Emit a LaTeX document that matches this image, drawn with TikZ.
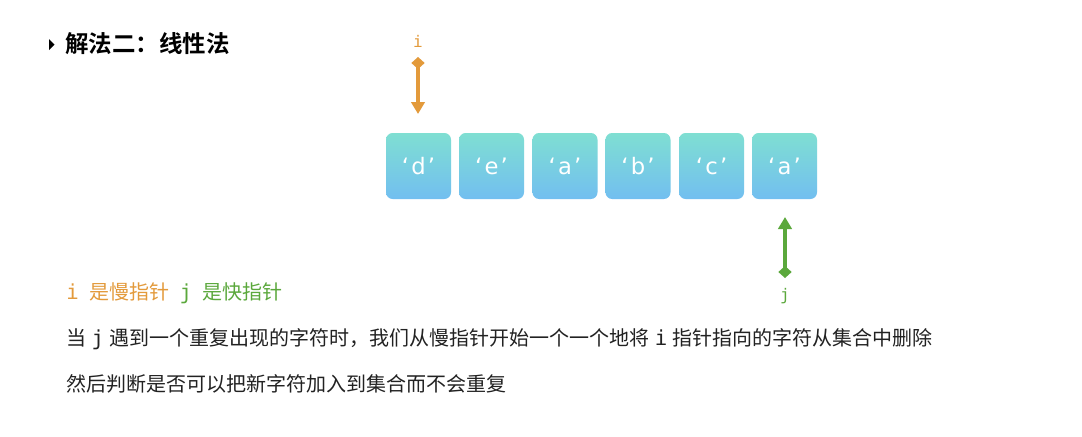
\documentclass[tikz,border=0pt]{standalone}
\usepackage{fontspec}
\usetikzlibrary{arrows.meta}
\newfontfamily\cjk{Noto Sans CJK SC}
\newfontfamily\cjkbold{Noto Sans CJK SC Bold}
\newfontfamily\monof{DejaVu Sans Mono}
\newfontfamily\boxfont{DejaVu Sans}
\definecolor{ptrorange}{HTML}{E39A3B}
\definecolor{ptrgreen}{HTML}{5BA83C}
\definecolor{boxtop}{HTML}{7FDFD2}
\definecolor{boxbot}{HTML}{72BEF0}
\definecolor{txt}{HTML}{222222}
\newcommand{\mletter}[2]{\hspace{#1}{\monof\fontsize{15.5}{17}\selectfont #2}\hspace{#1}}
\newcommand{\qch}[1]{‘\hspace{0.1em}#1\hspace{0.1em}’}
\tikzset{
  cell/.style={minimum width=65*0.75pt, minimum height=66*0.75pt, rounded corners=5pt,
    top color=boxtop, bottom color=boxbot, text=white, font=\boxfont\fontsize{17}{19}\selectfont, inner sep=0pt},
  ptr/.style={line width=2.3pt, {Diamond[length=9pt,width=10pt]}-{Triangle[length=9pt,width=10pt]}},
  body/.style={anchor=west, inner sep=0pt, text=txt, font=\cjk\fontsize{15}{17}\selectfont}
}
\begin{document}
\begin{tikzpicture}[x=0.75pt,y=-0.75pt]
\useasboundingbox[fill=white] (0,0) rectangle (1082,436);
% title
\fill[black] (49,39) -- (54.5,44.5) -- (49,50) -- cycle;
\node[anchor=west, inner sep=0pt, font=\cjkbold\fontsize{17.6}{20}\selectfont] (title) at (65,44) {解法二：线性法};
% cells
\node[cell] (c1) at (418.5,166) {\qch{d}};
\node[cell] (c2) at (491.5,166) {\qch{e}};
\node[cell] (c3) at (565,166) {\qch{a}};
\node[cell] (c4) at (638,166) {\qch{b}};
\node[cell] (c5) at (711.5,166) {\qch{c}};
\node[cell] (c6) at (784.5,166) {\qch{a}};
% pointer i
\node[text=ptrorange, font=\monof\fontsize{12}{14}\selectfont, inner sep=1pt] (ilab) at (418,41) {i};
\coordinate (itop) at (418,57);
\coordinate (ibot) at (418,114);
\draw[ptr, ptrorange] (itop) -- (ibot);
% pointer j
\coordinate (jbot) at (785,278);
\coordinate (jtop) at (785,217);
\draw[ptr, ptrgreen] (jbot) -- (jtop);
\node[text=ptrgreen, font=\monof\fontsize{12}{14}\selectfont, inner sep=1pt] (jlab) at (785,296) {j};
% text lines
\node[body] (l1) at (66,293) {\textcolor{ptrorange}{{\monof\fontsize{15.5}{17}\selectfont i}\hspace{0.55em}是慢指针}\textcolor{ptrgreen}{\mletter{0.5em}{j}是快指针}};
\node[body] (l2) at (66,339) {当\mletter{0.27em}{j}遇到一个重复出现的字符时，我们从慢指针开始一个一个地将\mletter{0.27em}{i}指针指向的字符从集合中删除};
\node[body] (l3) at (66,384) {然后判断是否可以把新字符加入到集合而不会重复};
\end{tikzpicture}
\end{document}
